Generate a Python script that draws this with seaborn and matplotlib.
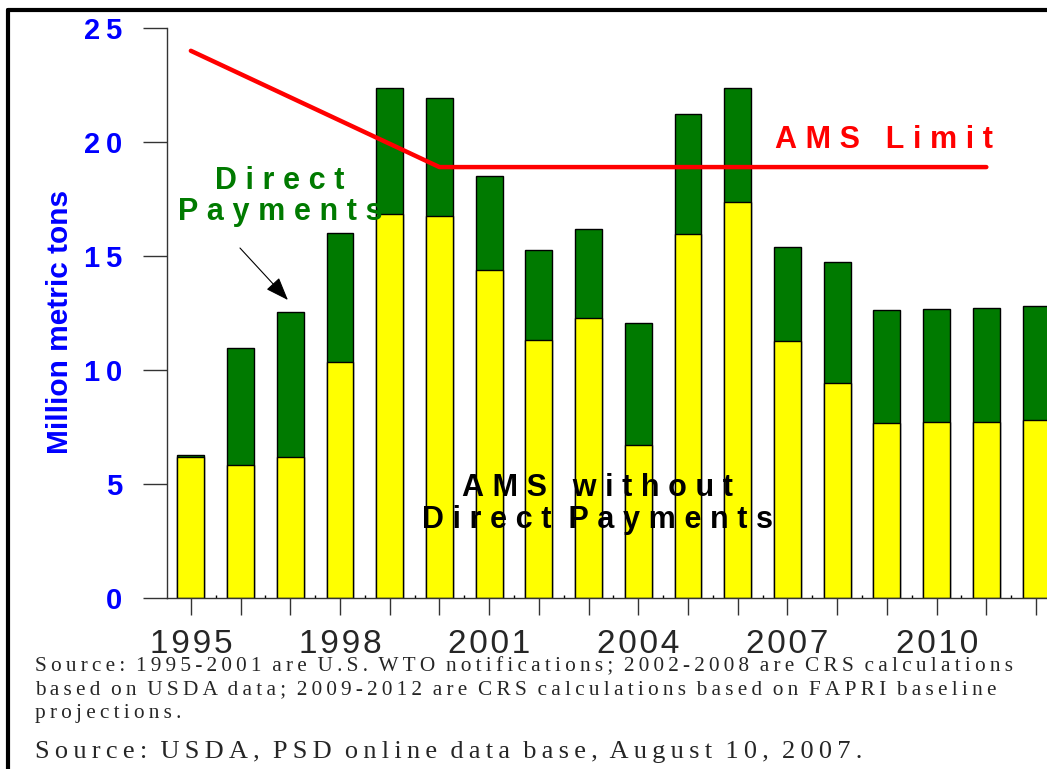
import numpy as np
import pandas as pd
import seaborn as sns
import matplotlib.pyplot as plt
from matplotlib.lines import Line2D

# Data (million metric tons)
years = list(range(1995, 2013))
ams_without_dp = [6.2, 5.85, 6.2, 10.35, 16.85, 16.75, 14.37, 11.3, 12.3, 6.72,
                  15.98, 17.38, 11.26, 9.45, 7.67, 7.7, 7.74, 7.8]
direct_payments = [0.06, 5.13, 6.33, 5.68, 5.52, 5.17, 4.13, 3.98, 3.88, 5.33,
                   5.24, 4.98, 4.15, 5.27, 4.97, 4.97, 4.96, 5.02]
limit_years = [1995, 2000, 2011]
limit_values = [24.0, 18.9, 18.9]
label_years = [1995, 1998, 2001, 2004, 2007, 2010]

df = pd.DataFrame({"year": years, "no_dp": ams_without_dp, "dp": direct_payments})
df["total"] = df["no_dp"] + df["dp"]

YELLOW = "#FFFF00"
GREEN = "#007A00"
RED = "#FF0000"
BLUE = "#0000FF"
HAIR = "\u200a"
THIN = "\u2009"


def spaced(text, sp=HAIR, wsep=None):
    # fake letter spacing by putting a narrow space between letters
    if wsep is None:
        wsep = sp + " " + sp
    return wsep.join(sp.join(w) for w in text.split(" "))


sns.set_theme(style="white")
plt.rcParams["font.family"] = ["Liberation Sans", "DejaVu Sans"]
serif = ["Liberation Serif", "DejaVu Serif"]

fig = plt.figure(figsize=(10.47, 7.69), dpi=100)
ax = fig.add_axes([167 / 1047, 1 - 598 / 769, 1 - 167 / 1047, (598 - 28) / 769])

# stacked bars: total in green, then the part without direct payments in yellow
sns.barplot(data=df, x="year", y="total", color=GREEN, saturation=1, width=0.54,
            edgecolor="black", linewidth=1, ax=ax)
sns.barplot(data=df, x="year", y="no_dp", color=YELLOW, saturation=1, width=0.54,
            edgecolor="black", linewidth=1, ax=ax)

# AMS limit line
ax.plot(np.array(limit_years) - years[0], limit_values, color=RED, lw=3.2,
        solid_capstyle="round", zorder=5)

ax.set_xlim(-0.48, 17.22)
ax.set_ylim(0, 25)
ax.set_yticks([0, 5, 10, 15, 20, 25])
ax.set_yticklabels([spaced(str(v), THIN) for v in [0, 5, 10, 15, 20, 25]],
                   color=BLUE, fontweight="bold", fontsize=21)
ax.set_xticks(range(len(years)))
ax.set_xticklabels([spaced(str(y)) if y in label_years else "" for y in years],
                   fontsize=24)
ax.set_xticks(np.arange(len(years) - 1) + 0.5, minor=True)
ax.tick_params(axis="y", which="major", direction="out", length=17, width=1,
               color="#333333", pad=15, left=True)
ax.tick_params(axis="x", which="major", direction="out", length=12, width=1,
               color="#333333", pad=10, bottom=True)
ax.tick_params(axis="x", which="minor", direction="in", length=2, width=1,
               color="black", bottom=True)
ax.set_xlabel("")
ax.set_ylabel("")
for side in ["top", "right"]:
    ax.spines[side].set_visible(False)
for side in ["left", "bottom"]:
    ax.spines[side].set_color("#333333")
    ax.spines[side].set_linewidth(1)

fig.text(60 / 1047, 1 - 322 / 769, "Million metric tons", rotation=90,
         ha="center", va="center", color=BLUE, fontweight="bold", fontsize=21.5)

# annotations
wide = THIN + HAIR
ax.text(1.79, 17.6, spaced("Direct", wide) + "\n" + spaced("Payments", wide),
        color=GREEN, fontweight="bold", fontsize=22, ha="center", va="center",
        linespacing=1.05)
ax.annotate("", xy=(1.99, 12.98), xytext=(0.95, 15.44),
            arrowprops=dict(arrowstyle="-|>,head_length=1.2,head_width=0.45",
                            color="black", lw=0.8))
ax.text(13.95, 20.1, spaced("AMS Limit", wide), color=RED, fontweight="bold",
        fontsize=22, ha="center", va="center")
ax.text(8.17, 4.12, spaced("AMS without", wide) + "\n" + spaced("Direct Payments", wide, wide + " "),
        color="black", fontweight="bold", fontsize=22, ha="center", va="center",
        linespacing=1.05)

# sources
src_lines = [
    "Source: 1995-2001 are U.S. WTO notifications; 2002-2008 are CRS calculations",
    "based on USDA data; 2009-2012 are CRS calculations based on FAPRI baseline",
    "projections.",
]
fig.text(35 / 1047, 1 - 690 / 769,
         "\n".join(spaced(s, THIN, "  ") for s in src_lines),
         family=serif, fontsize=15.3, ha="left", va="center", linespacing=1.3)
fig.text(35 / 1047, 1 - 752 / 769,
         spaced("Source: USDA, PSD online data base, August 10, 2007.", THIN, "  "),
         family=serif, fontsize=19, ha="left", va="center")

# outer frame
fig.add_artist(Line2D([8 / 1047, 8 / 1047], [0, 1 - 10 / 769], color="black", lw=3,
                      transform=fig.transFigure))
fig.add_artist(Line2D([8 / 1047, 1], [1 - 10 / 769, 1 - 10 / 769], color="black",
                      lw=3, transform=fig.transFigure))

fig.savefig("out.png", dpi=100)
